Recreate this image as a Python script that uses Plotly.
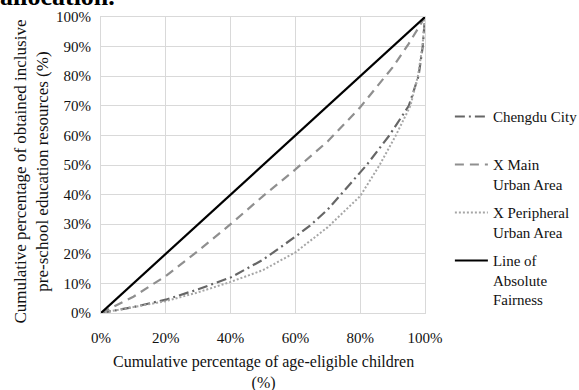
import plotly.graph_objects as go

# Cumulative percentage of age-eligible children (%) vs obtained resources (%)
x_city = [0, 10, 20, 30, 40, 50, 60, 64.5, 70, 74, 82, 89, 95, 98, 99.3, 100]
y_city = [0, 2, 4.5, 8, 12, 18, 25.8, 29.5, 35, 40, 50, 60, 70, 80, 90, 100]

x_main = [0, 10, 20, 30, 40, 50, 60, 70, 80, 90, 95, 100]
y_main = [0, 5.5, 12.5, 21, 30, 39.5, 48.5, 58, 69.5, 83, 91, 100]

x_peri = [0, 10, 20, 30, 40, 50, 60, 70, 80, 86, 91, 95.5, 97.8, 99.2, 100]
y_peri = [0, 2, 4, 7, 10.5, 14.5, 20.5, 29, 39.5, 50, 60, 70, 80, 90, 100]

x_fair = [0, 100]
y_fair = [0, 100]

names = ["Chengdu City<br>\u00a0", "X Main<br>Urban Area", "X Peripheral<br>Urban Area",
         "Line of<br>Absolute<br>Fairness"]
x_ticks = [0, 20, 40, 60, 80, 100]
y_ticks = [0, 10, 20, 30, 40, 50, 60, 70, 80, 90, 100]
x_ticktext = [f"{v}%" for v in x_ticks]
y_ticktext = [f"{v}%" for v in y_ticks]

FONT = "Liberation Serif"
TXT = "#111111"

fig = go.Figure()
fig.add_trace(go.Scatter(x=x_city, y=y_city, mode="lines", name=names[0], legendgroup="a",
                         line=dict(color="#666666", width=2.2, dash="10px,4px,2px,4px")))
fig.add_trace(go.Scatter(x=x_main, y=y_main, mode="lines", name=names[1], legendgroup="b",
                         line=dict(color="#8f8f8f", width=2.2, dash="9px,6px")))
fig.add_trace(go.Scatter(x=x_peri, y=y_peri, mode="lines", name=names[2], legendgroup="c",
                         line=dict(color="#a6a6a6", width=2, dash="2px,2px")))
fig.add_trace(go.Scatter(x=x_fair, y=y_fair, mode="lines", name=names[3], legendgroup="d",
                         line=dict(color="#000000", width=2.2)))

fig.update_xaxes(range=[0, 100], tickmode="array", tickvals=x_ticks, ticktext=x_ticktext,
                 showgrid=True, gridcolor="#d9d9d9", gridwidth=1, zeroline=False,
                 showline=True, linecolor="#d9d9d9", linewidth=1, mirror=True, ticks="",
                 ticklabelstandoff=11,
                 tickfont=dict(family=FONT, size=15, color=TXT), automargin=False)
fig.update_yaxes(range=[0, 100], tickmode="array", tickvals=y_ticks, ticktext=y_ticktext,
                 showgrid=True, gridcolor="#d9d9d9", gridwidth=1, zeroline=False,
                 showline=True, linecolor="#d9d9d9", linewidth=1, mirror=True, ticks="",
                 ticklabelstandoff=6,
                 tickfont=dict(family=FONT, size=15, color=TXT), automargin=False)

fig.update_layout(
    width=579, height=390,
    margin=dict(l=101, r=154, t=17, b=77),
    paper_bgcolor="white", plot_bgcolor="white",
    font=dict(family=FONT, size=15, color=TXT),
    showlegend=True,
    legend=dict(xref="container", yref="container", x=0.777, y=0.743,
                xanchor="left", yanchor="top", maxheight=320,
                traceorder="grouped", tracegroupgap=6, valign="top",
                itemwidth=33, font=dict(family=FONT, size=15, color=TXT),
                bgcolor="rgba(0,0,0,0)"),
    annotations=[
        dict(text="Cumulative percentage of age-eligible children<br>(%)",
             xref="paper", yref="paper", x=0.5, y=-0.2, xanchor="center", yanchor="middle",
             showarrow=False, font=dict(family=FONT, size=16, color=TXT)),
        dict(text="Cumulative percentage of obtained inclusive<br>pre-school education resources (%)",
             xref="paper", yref="paper", x=-0.216, y=0.478, xanchor="center", yanchor="middle",
             textangle=-90, showarrow=False, font=dict(family=FONT, size=17, color=TXT)),
        dict(text="<b>allocation.</b>", xref="paper", yref="paper", x=-0.318, y=1.013,
             xanchor="left", yanchor="bottom", showarrow=False,
             font=dict(family=FONT, size=26, color="#000000")),
    ],
)

fig.write_html("out.html", config={"displayModeBar": False},
               post_script="document.body.style.margin='0px';")
